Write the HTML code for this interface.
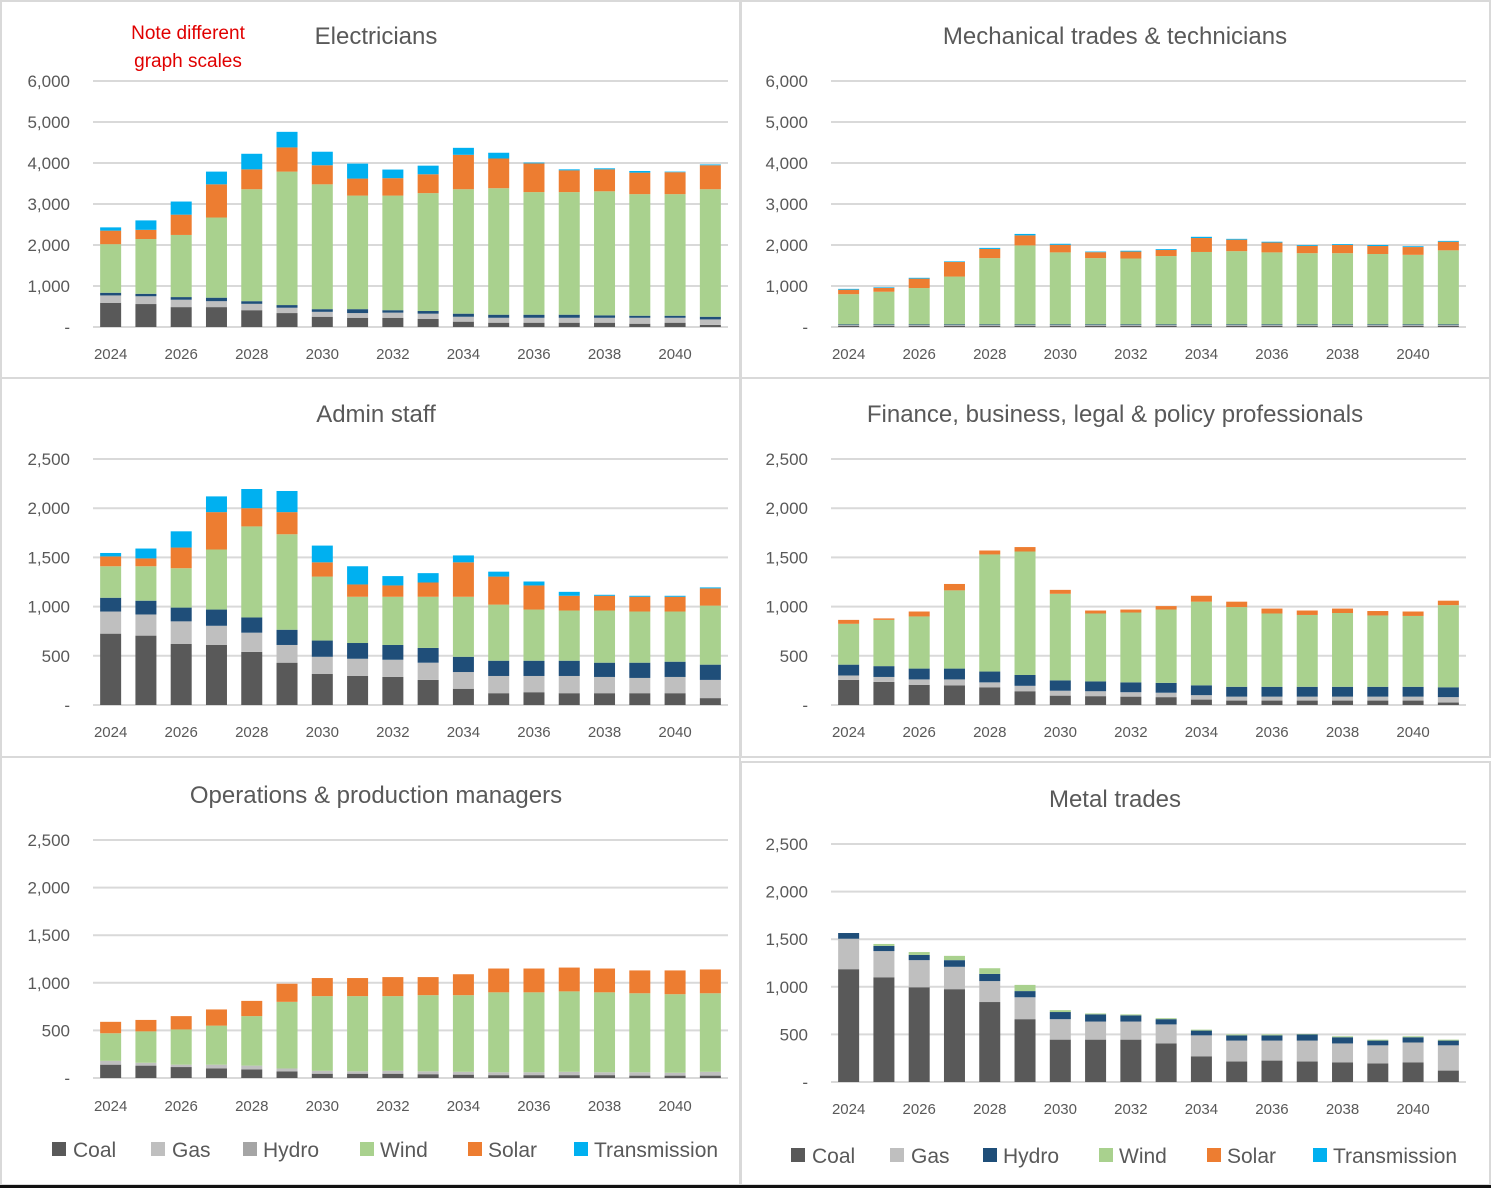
<!DOCTYPE html>
<html><head><meta charset="utf-8">
<style>
html,body{margin:0;padding:0;background:#fff;}
svg{display:block;font-family:"Liberation Sans",sans-serif;}
</style></head>
<body>
<svg id="chart" width="1491" height="1188" viewBox="0 0 1491 1188" xmlns="http://www.w3.org/2000/svg">
<rect x="0" y="0" width="1491" height="1188" fill="#fff"/>
<g fill="none" stroke="#d9d9d9" stroke-width="2">
<rect x="1" y="1" width="739" height="377"/>
<rect x="741" y="1" width="749" height="377"/>
<rect x="1" y="378" width="739" height="379"/>
<rect x="741" y="378" width="749" height="379"/>
<rect x="1" y="757" width="739" height="428"/>
<rect x="741" y="762" width="749" height="423"/>
</g>
<text x="188" y="39" font-size="19" fill="#e00000" text-anchor="middle">Note different</text>
<text x="188" y="67" font-size="19" fill="#e00000" text-anchor="middle">graph scales</text>
<g id="root"></g>
<rect x="0" y="1185" width="1491" height="3" fill="#111"/>
</svg>
<script>
const years = [2024,2025,2026,2027,2028,2029,2030,2031,2032,2033,2034,2035,2036,2037,2038,2039,2040,2041];
const seriesNames = ["Coal","Gas","Hydro","Wind","Solar","Transmission"];
const colors = ["#595959","#bfbfbf","#1f4e79","#a9d18e","#ed7d31","#00b0f0"];

const elecCoal = [590,560,485,485,410,340,250,225,225,200,130,105,105,105,105,80,105,50];
const elecGas = [180,190,180,145,155,130,120,115,125,125,120,120,120,120,120,145,120,135];
const elecHydro = [65,60,65,85,65,65,65,95,60,65,75,75,75,75,60,50,50,65];
const elecWind = [1185,1335,1515,1955,2730,3255,3045,2770,2795,2875,3035,3085,2990,2990,3025,2965,2965,3110];
const elecSolar = [330,225,495,810,485,590,465,415,425,460,840,725,700,530,535,525,535,585];
const elecTrans = [80,230,320,310,380,380,330,365,210,210,170,140,20,25,25,40,15,20];

const mechCoal = [30,30,30,30,30,30,30,30,30,30,30,30,30,30,30,30,30,30];
const mechGas = [15,15,15,15,15,15,15,15,15,15,15,15,15,15,15,15,15,15];
const mechHydro = [20,20,20,20,20,20,20,20,20,20,20,20,20,20,20,20,20,20];
const mechWind = [735,795,885,1165,1615,1925,1755,1615,1605,1665,1765,1785,1755,1735,1735,1715,1695,1805];
const mechSolar = [110,95,230,355,225,245,185,145,170,150,340,280,240,180,200,195,190,210];
const mechTrans = [20,15,20,15,25,35,25,15,20,20,30,20,20,20,20,25,20,20];

const adminCoal = [725,705,620,610,540,430,315,295,285,255,165,120,130,120,120,120,120,70];
const adminGas = [225,215,230,195,195,180,175,175,175,175,170,175,165,175,165,155,165,185];
const adminHydro = [140,140,140,165,155,155,165,160,150,150,155,155,155,155,145,155,155,155];
const adminWind = [320,350,400,610,925,970,650,470,490,520,610,570,520,510,530,520,510,600];
const adminSolar = [100,80,210,380,185,225,145,125,115,145,350,285,245,150,150,150,150,175];
const adminTrans = [35,100,165,160,195,215,170,185,95,95,70,50,40,40,10,10,10,10];

const finCoal = [255,235,205,200,180,140,95,90,85,80,55,45,45,45,45,45,45,25];
const finGas = [45,50,55,60,50,55,50,50,45,45,45,40,40,40,40,40,40,55];
const finHydro = [110,110,110,110,110,110,105,100,100,100,100,100,100,100,100,100,100,100];
const finWind = [415,470,530,795,1190,1255,880,690,710,745,850,810,745,730,750,725,720,835];
const finSolar = [40,15,50,65,40,45,40,30,30,35,60,55,50,45,45,45,45,45];
const finTrans = [0,0,0,0,0,0,0,0,0,0,0,0,0,0,0,0,0,0];

const opsCoal = [140,130,115,100,90,70,45,45,45,40,35,30,30,30,30,25,25,25];
const opsGas = [40,30,25,40,40,30,30,25,30,30,30,30,30,35,30,35,30,40];
const opsHydro = [0,0,0,0,0,0,0,0,0,0,0,0,0,0,0,0,0,0];
const opsWind = [290,330,370,410,520,700,785,790,785,800,805,840,840,845,840,830,825,825];
const opsSolar = [120,120,140,170,160,190,190,190,200,190,220,250,250,250,250,240,250,250];
const opsTrans = [0,0,0,0,0,0,0,0,0,0,0,0,0,0,0,0,0,0];

const metalCoal = [1185,1100,995,975,840,660,445,445,445,405,270,215,225,215,205,195,205,120];
const metalGas = [320,275,285,235,220,230,215,190,190,200,220,220,210,220,200,190,210,265];
const metalHydro = [60,55,55,70,75,65,75,75,65,55,50,55,55,65,65,50,55,50];
const metalWind = [0,20,30,45,60,65,20,10,10,10,10,10,10,5,10,10,10,10];
const metalSolar = [0,0,0,0,0,0,0,0,0,0,0,0,0,0,0,0,0,0];
const metalTrans = [0,0,0,0,0,0,0,0,0,0,0,0,0,0,0,0,0,0];

const ticks6000 = [0,1000,2000,3000,4000,5000,6000];
const ticks2500 = [0,500,1000,1500,2000,2500];

const NS = "http://www.w3.org/2000/svg";
const root = document.getElementById('root');
function mk(tag, attrs, parent, txt){
  const e = document.createElementNS(NS, tag);
  for (const k in attrs) e.setAttribute(k, attrs[k]);
  if (txt !== undefined) e.textContent = txt;
  parent.appendChild(e);
  return e;
}
function fmt(v){ return v === 0 ? "-" : v.toLocaleString("en-US"); }

function panel(name, title, cx, x0, x1, yTop, yZero, maxV, ticks, xlabY, titleY, data){
  const g = mk('g', {}, root);
  
  
  const yScale = v => yZero - (v / maxV) * (yZero - yTop);
  const step = (x1 - x0) / years.length;
  const xScale = i => x0 + (i + 0.5) * step;
  const t = mk('text', {x: cx, y: titleY, 'font-size': 24, fill: '#595959', 'text-anchor': 'middle'}, g, title);
  
  
  ticks.forEach(v => {
    const y = yScale(v);
    const ln = mk('line', {x1: x0, x2: x1, y1: y, y2: y, stroke: '#d9d9d9', 'stroke-width': 2}, g);
    
    
    const lb = mk('text', {x: x0 - 23, y: y + 6, 'font-size': 17, fill: '#595959', 'text-anchor': 'end'}, g, fmt(v));
    
    
  });
  years.forEach((yr, i) => {
    let acc = 0;
    data.forEach((ser, s) => {
      const v = ser[i];
      if (v <= 0) return;
      const yA = yScale(acc), yB = yScale(acc + v);
      const r = mk('rect', {x: xScale(i) - 10.5, y: yB, width: 21, height: yA - yB, fill: colors[s]}, g);
      
      
      acc += v;
    });
    if (yr % 2 === 0 && yr <= 2040) {
      const xl = mk('text', {x: xScale(i), y: xlabY, 'font-size': 15, fill: '#595959', 'text-anchor': 'middle'}, g, String(yr));
      
      
    }
  });
}

panel('electricians-chart','Electricians',376,93,728,81,327,6000,ticks6000,359,44,[elecCoal,elecGas,elecHydro,elecWind,elecSolar,elecTrans]);
panel('mechanical-chart','Mechanical trades & technicians',1115,831,1466,81,327,6000,ticks6000,359,44,[mechCoal,mechGas,mechHydro,mechWind,mechSolar,mechTrans]);
panel('admin-chart','Admin staff',376,93,728,459,705,2500,ticks2500,737,422,[adminCoal,adminGas,adminHydro,adminWind,adminSolar,adminTrans]);
panel('finance-chart','Finance, business, legal & policy professionals',1115,831,1466,459,705,2500,ticks2500,737,422,[finCoal,finGas,finHydro,finWind,finSolar,finTrans]);
panel('operations-chart','Operations & production managers',376,93,728,840,1078,2500,ticks2500,1111,803,[opsCoal,opsGas,opsHydro,opsWind,opsSolar,opsTrans]);
panel('metal-trades-chart','Metal trades',1115,831,1466,844,1082,2500,ticks2500,1114,807,[metalCoal,metalGas,metalHydro,metalWind,metalSolar,metalTrans]);

function legend(name, y, sqX, txtX, cols){
  const g = mk('g', {}, root);
  
  
  seriesNames.forEach((s, i) => {
    const e = mk('g', {}, g);
    
    
    mk('rect', {x: sqX[i], y: y - 7, width: 14, height: 14, fill: cols[i]}, e);
    mk('text', {x: txtX[i], y: y + 8, 'font-size': 21, fill: '#595959'}, e, s);
  });
}
legend('legend-left', 1149, [52,151,243,360,468,574], [73,172,263,380,488,594], ["#595959","#bfbfbf","#a5a5a5","#a9d18e","#ed7d31","#00b0f0"]);
legend('legend-right', 1155, [791,890,983,1099,1207,1313], [812,911,1003,1119,1227,1333], colors);
</script>
</body></html>
